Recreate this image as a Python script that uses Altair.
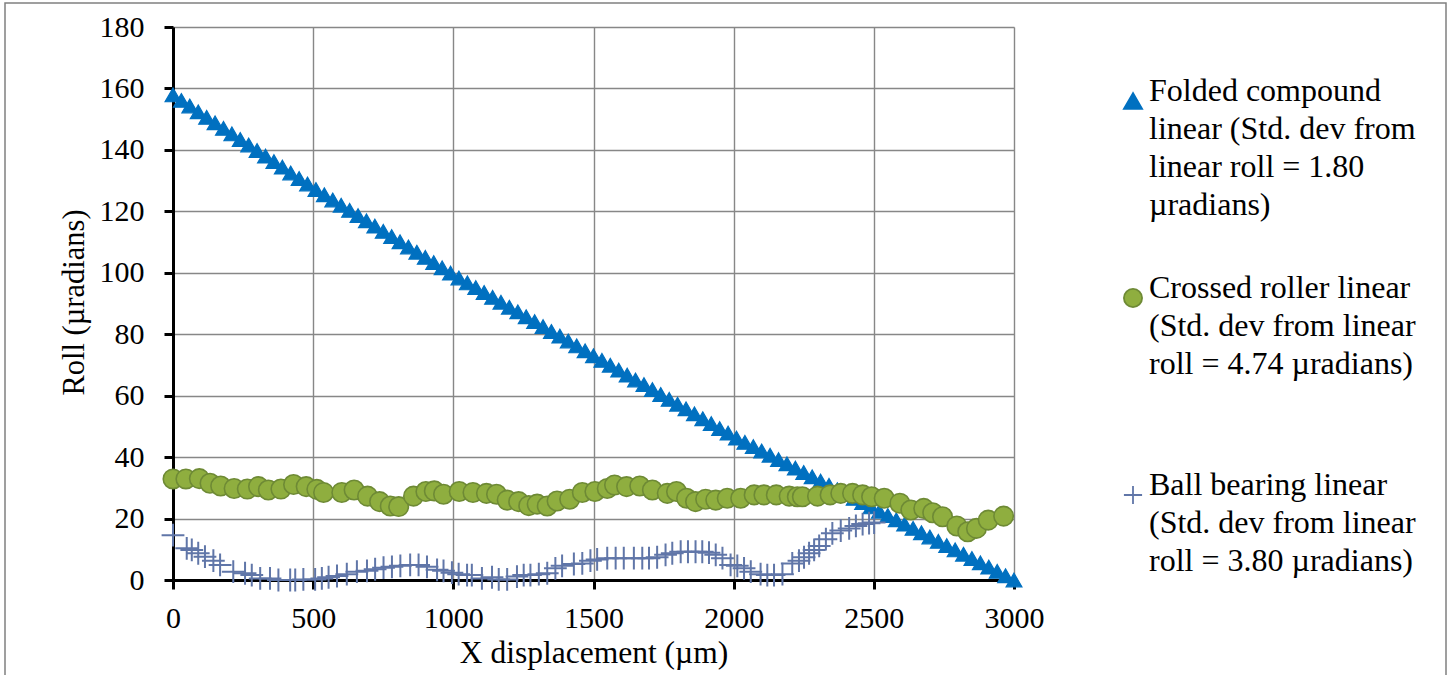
import json
import altair as alt
import pandas as pd

# ---------------- data ----------------
series_names = ["Folded compound linear", "Crossed roller linear", "Ball bearing linear"]
legend_lines = [
    ["Folded compound", "linear (Std. dev from", "linear roll = 1.80", "µradians)"],
    ["Crossed roller linear", "(Std. dev from linear", "roll = 4.74 µradians)"],
    ["Ball bearing linear", "(Std. dev from linear", "roll = 3.80 µradians)"],
]

folded_x = [0, 30, 60, 90, 120, 150, 180, 210, 240, 270, 300, 330, 360, 390, 420, 450, 480,
            510, 540, 570, 600, 630, 660, 690, 720, 750, 780, 810, 840, 870, 900, 930, 960, 990,
            1020, 1050, 1080, 1110, 1140, 1170, 1200, 1230, 1260, 1290, 1320, 1350, 1380, 1410,
            1440, 1470, 1500, 1530, 1560, 1590, 1620, 1650, 1680, 1710, 1740, 1770, 1800, 1830,
            1860, 1890, 1920, 1950, 1980, 2010, 2040, 2070, 2100, 2130, 2160, 2190, 2220, 2250,
            2280, 2310, 2340, 2370, 2400, 2430, 2460, 2490, 2520, 2550, 2580, 2610, 2640, 2670,
            2700, 2730, 2760, 2790, 2820, 2850, 2880, 2910, 2940, 2970, 3000]
folded_y = [157.9, 156.1, 154.3, 152.4, 150.6, 148.8, 147.0, 145.2, 143.4, 141.6, 139.8, 138.0,
            136.2, 134.4, 132.5, 130.7, 128.9, 127.1, 125.4, 123.7, 122.0, 120.3, 118.6, 116.9,
            115.2, 113.5, 111.8, 110.1, 108.4, 106.7, 105.0, 103.3, 101.6, 99.9, 98.3, 96.7, 95.2,
            93.6, 92.0, 90.4, 88.8, 87.3, 85.7, 84.1, 82.5, 80.9, 79.4, 77.8, 76.2, 74.6, 73.0,
            71.5, 69.9, 68.3, 66.7, 65.1, 63.6, 62.0, 60.4, 58.8, 57.2, 55.7, 54.1, 52.5, 50.9,
            49.3, 47.8, 46.2, 44.8, 43.4, 42.0, 40.6, 39.2, 37.8, 36.4, 35.0, 33.6, 32.2, 30.8,
            29.4, 28.0, 26.6, 25.2, 23.8, 22.4, 21.0, 19.6, 18.2, 16.8, 15.4, 14.0, 12.6, 11.2,
            9.8, 8.4, 7.0, 5.6, 4.2, 2.8, 1.4, 0.0]

crossed_x = [0, 46, 94, 132, 170, 218, 265, 305, 340, 385, 430, 475, 513, 537, 602, 646, 694,
             737, 775, 805, 858, 902, 932, 965, 1021, 1070, 1118, 1154, 1192, 1233, 1269, 1299,
             1335, 1370, 1415, 1460, 1505, 1549, 1575, 1618, 1665, 1710, 1763, 1796, 1832, 1864,
             1900, 1936, 1977, 2025, 2073, 2108, 2152, 2198, 2227, 2245, 2299, 2344, 2382, 2424,
             2460, 2492, 2537, 2593, 2632, 2678, 2710, 2745, 2796, 2835, 2866, 2908, 2963]
crossed_y = [32.9, 32.9, 33.0, 31.5, 30.6, 29.8, 29.6, 30.4, 29.3, 29.6, 31.1, 30.4, 29.5, 28.5,
             28.5, 29.3, 27.3, 25.5, 24.1, 23.9, 27.3, 28.8, 29.0, 27.9, 28.8, 28.5, 28.2, 27.9,
             26.0, 25.5, 24.2, 24.7, 24.1, 25.7, 26.3, 28.5, 28.8, 29.8, 30.9, 30.4, 30.6, 29.3,
             28.2, 28.8, 26.6, 25.5, 26.3, 26.0, 26.6, 26.6, 27.7, 27.7, 27.7, 27.3, 27.1, 27.1,
             27.3, 27.7, 28.2, 28.2, 27.7, 27.1, 26.6, 25.0, 22.8, 23.3, 21.9, 20.6, 17.6, 15.7,
             16.8, 19.5, 20.8]

ball_x = [0, 49, 67, 90, 114, 144, 168, 215, 257, 281, 311, 346, 376, 418, 436, 465, 507, 531,
          555, 585, 620, 656, 692, 721, 751, 781, 811, 846, 876, 906, 942, 965, 995, 1019, 1049,
          1066, 1102, 1138, 1162, 1192, 1227, 1251, 1275, 1305, 1335, 1364, 1388, 1430, 1460,
          1489, 1513, 1549, 1579, 1608, 1644, 1674, 1698, 1727, 1757, 1781, 1811, 1837, 1864,
          1888, 1912, 1936, 1960, 1989, 2013, 2037, 2061, 2096, 2120, 2144, 2174, 2209, 2233,
          2251, 2269, 2287, 2305, 2329, 2352, 2382, 2412, 2436, 2460, 2483, 2501]
ball_y = [14.6, 10.3, 9.8, 8.7, 7.6, 6.3, 4.9, 2.7, 2.2, 1.6, 0.5, 0.5, 0.0, 0.0, 0.0, 0.2, 0.2,
          0.5, 0.9, 1.3, 1.9, 2.7, 3.0, 3.5, 4.0, 4.3, 4.6, 4.9, 4.9, 4.3, 3.3, 3.0, 2.4, 1.9, 1.6,
          1.6, 0.5, 0.9, 0.2, 0.2, 1.1, 1.6, 1.6, 1.9, 2.2, 3.8, 4.6, 5.2, 5.4, 6.3, 6.7, 7.1, 7.1,
          7.1, 7.1, 7.1, 7.1, 7.4, 8.2, 8.7, 9.2, 9.2, 9.2, 9.2, 8.9, 8.2, 7.1, 4.9, 4.6, 3.8, 2.7,
          1.9, 1.6, 1.6, 1.9, 5.4, 6.3, 7.4, 8.7, 9.8, 11.1, 13.3, 15.2, 16.1, 16.8, 17.6, 18.2,
          18.5, 18.7]

x_ticks = [0, 500, 1000, 1500, 2000, 2500, 3000]
y_ticks = [0, 20, 40, 60, 80, 100, 120, 140, 160, 180]

# ---------------- styles ----------------
FONT = "Liberation Serif"
shapes = ["triangle-up", "circle", "M-1,0H1M0,-1V1"]
fills = ["#0070C0", "#8FAE3F", "transparent"]
strokes = ["#0070C0", "#6E8A35", "#6076A8"]
sizes = [250, 380, 520]
stroke_widths = [1.2, 1.6, 2.0]

expr = " : ".join(
    f"datum.label == {json.dumps(n)} ? {json.dumps(l)}" for n, l in zip(series_names, legend_lines)
) + " : datum.label"

legend = alt.Legend(
    title=None, orient="none", legendX=944, legendY=58,
    labelExpr=expr, labelFont=FONT, labelFontSize=32, labelColor="black",
    labelLimit=800, labelBaseline="alphabetic", labelOffset=0,
    gridAlign="all", rowPadding=51, padding=0,
    symbolStrokeWidth=1.8, symbolOpacity=1, symbolSize=330,
)

sc = lambda rng: alt.Scale(domain=series_names, range=rng)

x_enc = alt.X("x:Q", scale=alt.Scale(domain=[0, 3000], nice=False, zero=False),
              axis=alt.Axis(values=x_ticks, grid=True, gridColor="#878787", gridWidth=1.4,
                            domainColor="black", domainWidth=3, tickColor="black", tickWidth=3,
                            tickSize=9, labelFont=FONT, labelFontSize=30, labelColor="black",
                            labelPadding=14, labelFlush=False, format="d",
                            title="X displacement (µm)", titleFont=FONT, titleFontSize=31.5,
                            titleFontWeight="normal", titleColor="black",
                            titleBaseline="alphabetic", titleY=82))
y_enc = alt.Y("y:Q", scale=alt.Scale(domain=[0, 180], nice=False),
              axis=alt.Axis(values=y_ticks, grid=True, gridColor="#878787", gridWidth=1.4,
                            domainColor="black", domainWidth=3, tickColor="black", tickWidth=3,
                            tickSize=9, labelFont=FONT, labelFontSize=30, labelColor="black",
                            labelPadding=20, labelFlush=False,
                            title="Roll (µradians)", titleFont=FONT, titleFontSize=30.5,
                            titleFontWeight="normal", titleColor="black",
                            titleBaseline="alphabetic", titleAngle=270, titleX=-90, titleY=275))

layers = []
for i, (name, xs, ys) in enumerate([(series_names[0], folded_x, folded_y),
                                    (series_names[1], crossed_x, crossed_y),
                                    (series_names[2], ball_x, ball_y)]):
    n = min(len(xs), len(ys))
    d = pd.DataFrame({"x": xs[:n], "y": ys[:n], "series": [name] * n})
    layers.append(
        alt.Chart(d).mark_point(opacity=1, strokeWidth=stroke_widths[i], size=sizes[i]).encode(
            x=x_enc, y=y_enc,
            shape=alt.Shape("series:N", scale=sc(shapes), legend=legend),
            fill=alt.Fill("series:N", scale=sc(fills), legend=legend),
            stroke=alt.Stroke("series:N", scale=sc(strokes), legend=legend),
        )
    )

border = alt.Chart(pd.DataFrame({"k": [0]})).mark_rect(
    fill="transparent", stroke="#808080", strokeWidth=1.5
).encode(x=alt.value(-168), x2=alt.value(1273), y=alt.value(-24), y2=alt.value(660))

chart = alt.layer(border, *layers).properties(
    width=841, height=553,
    autosize=alt.AutoSizeParams(type="none"),
    padding={"left": 173, "top": 27, "right": 438, "bottom": 95},
    background="white",
).configure_view(stroke=None).configure(
    style={"guide-label": {"lineHeight": 38}}
)

chart.save("out.html", embed_options={"renderer": "svg", "actions": False})
